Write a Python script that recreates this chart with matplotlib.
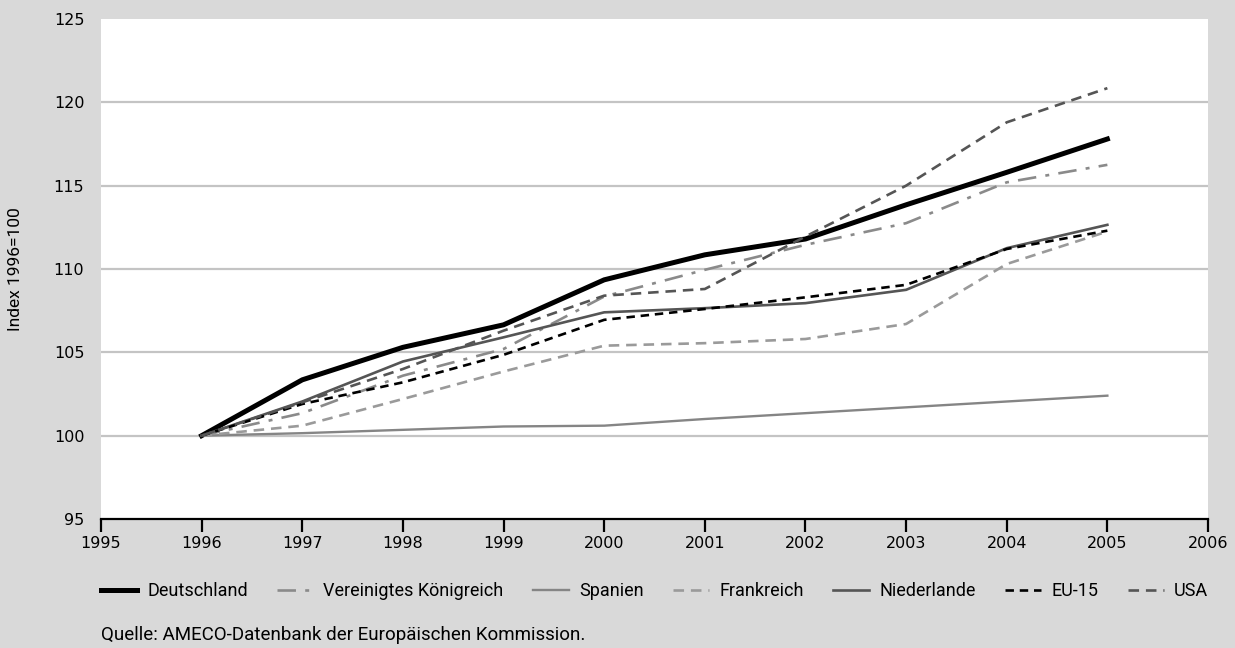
import matplotlib.pyplot as plt
import numpy as np

# ---------------------------------------------------------------------------
# Data (Index 1996 = 100)
# ---------------------------------------------------------------------------
years = [1996, 1997, 1998, 1999, 2000, 2001, 2002, 2003, 2004, 2005]

deutschland = [100, 103.35, 105.3, 106.65, 109.35, 110.85, 111.8, 113.85, 115.8, 117.8]
uk          = [100, 101.35, 103.6, 105.2, 108.35, 109.95, 111.45, 112.75, 115.2, 116.25]
spanien     = [100, 100.15, 100.35, 100.55, 100.6, 101.0, 101.35, 101.7, 102.05, 102.4]
frankreich  = [100, 100.6, 102.2, 103.85, 105.4, 105.55, 105.8, 106.7, 110.3, 112.25]
niederlande = [100, 102.05, 104.45, 105.9, 107.4, 107.65, 107.95, 108.75, 111.25, 112.65]
eu15        = [100, 101.9, 103.2, 104.85, 106.95, 107.6, 108.3, 109.05, 111.2, 112.3]
usa         = [100, 102.0, 104.0, 106.3, 108.4, 108.8, 111.95, 115.0, 118.8, 120.85]

x_ticks = list(range(1995, 2007))
y_ticks = [95, 100, 105, 110, 115, 120, 125]

BG = "#d9d9d9"
FONT = ["Roboto", "DejaVu Sans"]

# (label, values, color, linewidth, linestyle)
SERIES = [
    ("Deutschland", deutschland, "#000000", 3.6, "-"),
    ("Vereinigtes Königreich", uk, "#8a8a8a", 1.9, (0, (7, 3.5, 1.5, 3.5))),
    ("Spanien", spanien, "#858585", 1.7, "-"),
    ("Frankreich", frankreich, "#9a9a9a", 1.9, (0, (4, 2.6))),
    ("Niederlande", niederlande, "#555555", 1.9, "-"),
    ("EU-15", eu15, "#000000", 1.9, (0, (3.2, 2.2))),
    ("USA", usa, "#555555", 1.9, (0, (4, 2.6))),
]

fig = plt.figure(figsize=(12.35, 6.48), dpi=100, facecolor=BG)
ax = fig.add_axes([101 / 1235, 1 - 519 / 648, 1107 / 1235, 500 / 648])
ax.set_facecolor("white")

# light grey horizontal gridlines (not at the axis limits)
for v in y_ticks[1:-1]:
    ax.axhline(v, color="#c4c4c4", lw=1.6, zorder=1)

handles = []
for label, vals, col, lw, ls in SERIES:
    h, = ax.plot(years, vals, color=col, lw=lw, ls=ls, label=label,
                 solid_joinstyle="miter", zorder=3)
    handles.append(h)

ax.set_xlim(x_ticks[0], x_ticks[-1])
ax.set_ylim(y_ticks[0], y_ticks[-1])
ax.set_xticks(x_ticks)
ax.set_yticks(y_ticks)

for side in ("top", "right", "left"):
    ax.spines[side].set_visible(False)
ax.spines["bottom"].set_linewidth(1.6)
ax.spines["bottom"].set_color("black")

ax.tick_params(axis="x", direction="out", length=9, width=1.6, pad=3,
               labelsize=11.5, colors="black")
ax.tick_params(axis="y", length=0, pad=12, labelsize=11.5)

ax.set_ylabel("Index 1996=100", fontsize=12.5, family=FONT)
ax.yaxis.set_label_coords(-78 / 1107, 0.5)

leg = fig.legend(handles=handles, loc="center",
                 bbox_to_anchor=(101 / 1235, 1 - 604 / 648, 1107 / 1235, 0.04),
                 ncol=7, mode="expand", frameon=False, handlelength=2.0,
                 handletextpad=0.55, borderaxespad=0, borderpad=0,
                 prop={"family": FONT, "size": 13})

fig.text(101 / 1235, 1 - 635 / 648,
         "Quelle: AMECO-Datenbank der Europäischen Kommission.",
         fontsize=13.5, family=FONT, ha="left", va="center")

fig.savefig("out.png", dpi=100, facecolor=BG)
